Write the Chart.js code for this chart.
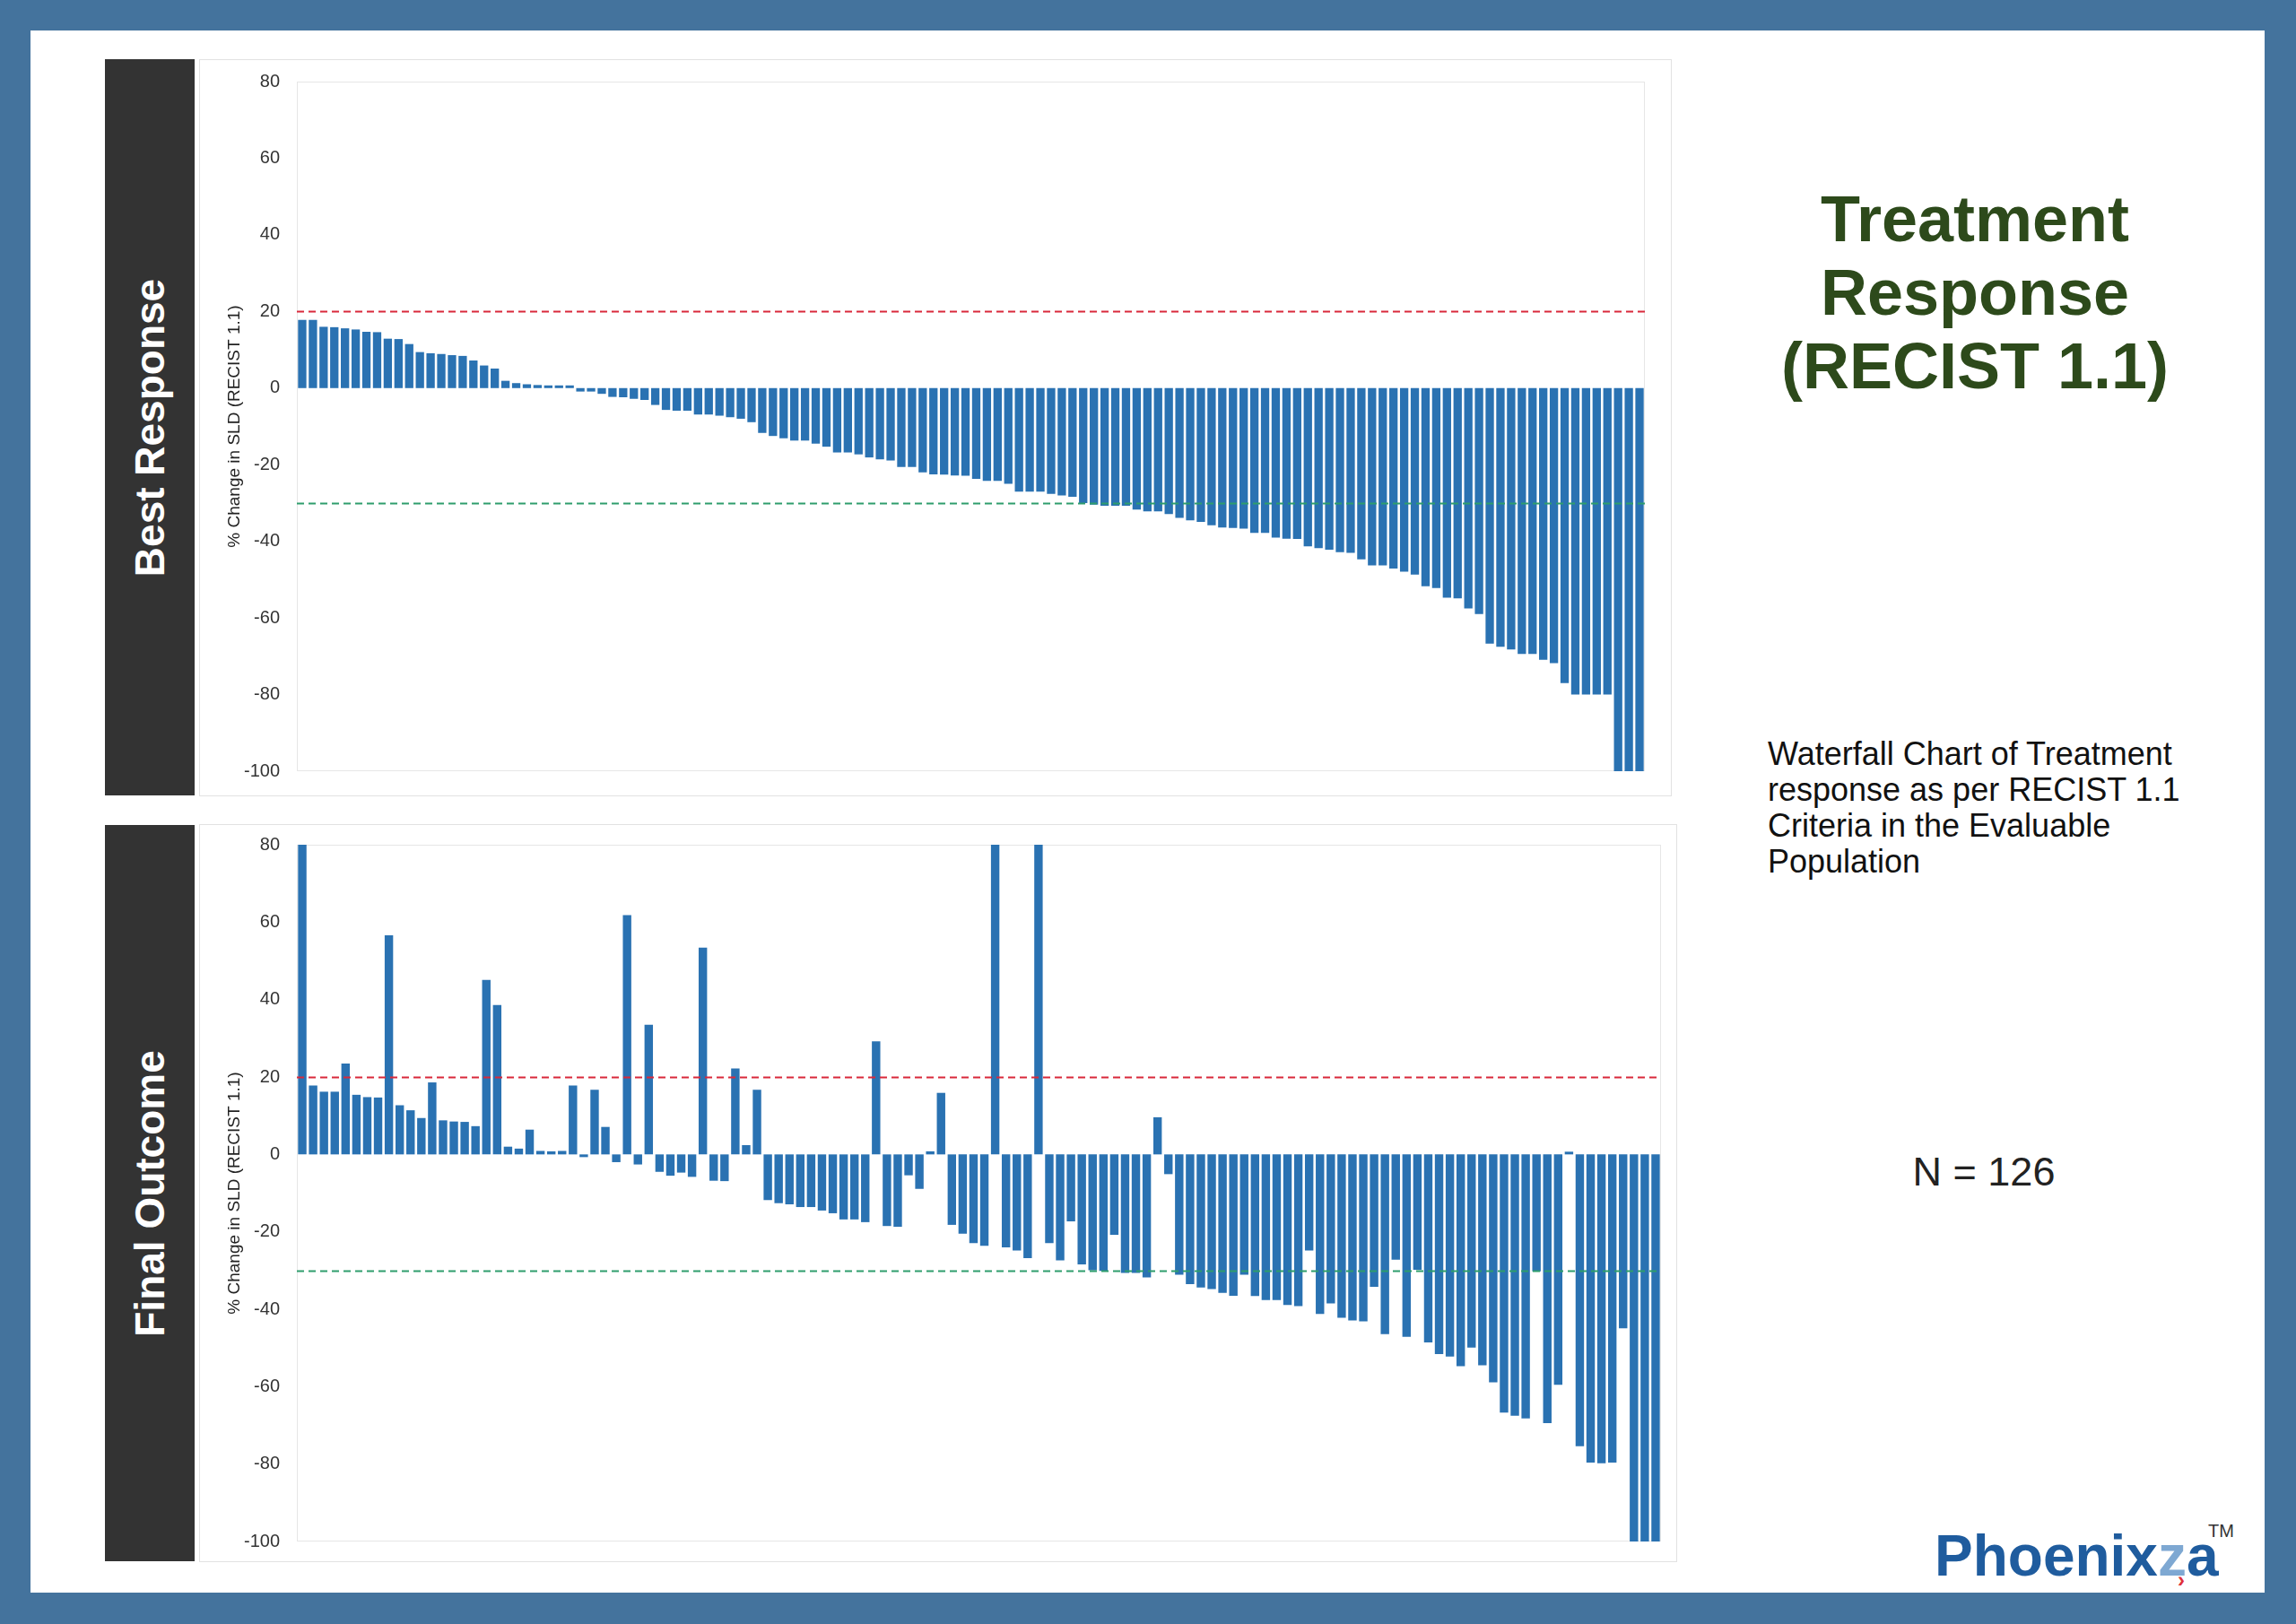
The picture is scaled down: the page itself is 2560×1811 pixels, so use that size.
<!DOCTYPE html>
<html>
<head>
<meta charset="utf-8">
<script src="https://cdn.jsdelivr.net/npm/chart.js@4.4.0/dist/chart.umd.min.js"></script>
<style>
  body { margin: 0; width: 2560px; height: 1811px; background: #44739d; position: relative; overflow: hidden; font-family: "Liberation Sans", Arial, sans-serif; }
  #panel { position: absolute; left: 34px; top: 34px; width: 2491px; height: 1742px; background: #fff; }
  .band { position: absolute; left: 117px; width: 100px; background: #333; }
  .band span { position: absolute; left: 50%; top: 50%; transform: translate(-50%, -50%) rotate(-90deg); white-space: nowrap; color: #fff; font-weight: bold; font-size: 46px; }
  .box { position: absolute; outline: 1px solid #e2e2e2; background: #fff; }
  .box canvas { display: block; }
  #title { position: absolute; left: 1852px; top: 203px; width: 700px; text-align: center; color: #2d4a1b; font-weight: bold; font-size: 72px; line-height: 82px; }
  #desc { position: absolute; left: 1971px; top: 821px; font-size: 36px; line-height: 40px; color: #111; }
  #count { position: absolute; left: 2012px; top: 1282px; width: 400px; text-align: center; font-size: 45px; line-height: 50px; color: #222; }
  #logo { position: absolute; left: 2157px; top: 1704px; font-size: 64px; line-height: 62px; font-weight: bold; color: #1f5c9e; }
  #logo .z { color: #7ea8d2; }
  #tm { position: absolute; left: 2462px; top: 1696px; font-size: 20px; color: #333; }
  #chev { position: absolute; left: 2428px; top: 1748px; font-size: 24px; font-weight: bold; color: #e0303a; }
</style>
</head>
<body>
<div id="panel"></div>

<div class="band" style="top:66px;height:821px;"><span>Best Response</span></div>
<div class="box" style="left:223px;top:67px;width:1640px;height:820px;"><canvas id="bestChart" width="1640" height="820"></canvas></div>

<div class="band" style="top:920px;height:821px;"><span>Final Outcome</span></div>
<div class="box" style="left:223px;top:920px;width:1646px;height:821px;"><canvas id="finalChart" width="1646" height="821"></canvas></div>

<div id="title">Treatment<br>Response<br>(RECIST 1.1)</div>
<div id="desc">Waterfall Chart of Treatment<br>response as per RECIST 1.1<br>Criteria in the Evaluable<br>Population</div>
<div id="count">N = 126</div>
<div id="logo">Phoenix<span class="z">z</span>a</div>
<div id="tm">TM</div>
<div id="chev">›</div>

<script>
// % change in sum of longest diameters, one value per patient (sorted by best response)
const bestResponse = [
    17.8, 17.8, 16.0, 15.9, 15.6, 15.3, 14.7, 14.6, 12.9, 12.8,
    11.5, 9.4, 9.1, 8.9, 8.6, 8.4, 7.2, 5.9, 5.1, 1.9,
    1.3, 1.0, 0.8, 0.7, 0.7, 0.7, -0.9, -0.9, -1.5, -2.3,
    -2.4, -2.8, -3.1, -4.4, -5.7, -5.9, -5.9, -6.9, -6.9, -7.2,
    -7.6, -8.0, -8.9, -11.7, -12.5, -13.1, -13.7, -13.7, -14.5, -15.3,
    -16.8, -16.8, -17.3, -18.1, -18.6, -18.9, -20.6, -20.6, -22.0, -22.5,
    -22.6, -22.8, -22.9, -23.7, -24.2, -24.2, -25.0, -27.0, -27.0, -27.0,
    -27.6, -28.0, -28.4, -30.0, -30.4, -30.7, -30.7, -30.7, -31.7, -32.2,
    -32.2, -32.9, -33.9, -34.5, -34.9, -35.8, -36.4, -36.5, -36.7, -37.8,
    -37.8, -39.0, -39.3, -39.4, -41.3, -41.8, -42.2, -42.8, -43.0, -44.7,
    -46.3, -46.3, -47.1, -47.9, -48.7, -51.7, -52.2, -54.7, -54.9, -57.5,
    -59.0, -66.7, -67.5, -68.2, -69.4, -69.4, -70.9, -71.8, -77.0, -80,
    -80, -80, -80, -100, -100, -100
];

// same patients, final outcome
const finalOutcome = [
    80, 17.8, 16.2, 16.2, 23.5, 15.4, 14.8, 14.7, 56.6, 12.7,
    11.4, 9.4, 18.6, 8.8, 8.5, 8.4, 7.3, 45.1, 38.6, 2.0,
    1.5, 6.4, 0.9, 0.8, 0.9, 17.8, -0.7, 16.7, 7.1, -2.0,
    61.8, -2.6, 33.5, -4.5, -5.5, -4.7, -5.8, 53.4, -6.8, -6.9,
    22.2, 2.4, 16.7, -11.8, -12.6, -12.9, -13.6, -13.6, -14.5, -15.2,
    -16.8, -16.8, -17.5, 29.2, -18.5, -18.7, -5.4, -8.9, 0.8, 15.9,
    -18.2, -20.5, -22.9, -23.6, 80, -24.0, -24.8, -26.8, 80, -22.9,
    -27.4, -17.3, -28.4, -29.9, -30.1, -20.8, -30.6, -30.6, -31.8, 9.6,
    -5.1, -31.1, -33.5, -34.4, -34.8, -35.8, -36.5, -31.1, -36.6, -37.6,
    -37.6, -38.9, -39.2, -24.8, -41.2, -38.5, -42.2, -42.9, -43.1, -34.2,
    -46.4, -27.2, -47.1, -29.8, -48.6, -51.6, -52.2, -54.7, -49.9, -54.5,
    -58.9, -66.7, -67.5, -68.2, -30.2, -69.4, -59.5, 0.7, -75.4, -79.6,
    -79.8, -79.6, -44.9, -100, -100, -100
];

const patients = bestResponse.map((v, i) => String(i + 1));
const yTicks = [80, 60, 40, 20, 0, -20, -40, -60, -80, -100];
const progressionLine = 20;   // PD threshold
const responseLine = -30;     // PR threshold
const yTitle = '% Change in SLD (RECIST 1.1)';

Chart.defaults.font.family = '"Liberation Sans", Arial, sans-serif';

// plot frame + dashed RECIST thresholds
const recistLines = {
    id: 'recistLines',
    beforeDatasetsDraw(chart) {
        const { ctx, chartArea } = chart;
        ctx.save();
        ctx.strokeStyle = '#e6e6e6';
        ctx.lineWidth = 1;
        ctx.strokeRect(chartArea.left + 0.5, chartArea.top + 0.5, chartArea.width - 1, chartArea.height - 1);
        ctx.restore();
    },
    afterDatasetsDraw(chart) {
        const { ctx, chartArea, scales } = chart;
        const lines = [[progressionLine, '#d9293b'], [responseLine, '#2f9d6d']];
        ctx.save();
        ctx.lineWidth = 2;
        ctx.setLineDash([8, 5]);
        lines.forEach(([val, color]) => {
            const y = Math.round(scales.y.getPixelForValue(val)) + 0.5;
            ctx.strokeStyle = color;
            ctx.beginPath();
            ctx.moveTo(chartArea.left, y);
            ctx.lineTo(chartArea.right, y);
            ctx.stroke();
        });
        ctx.restore();
    }
};

function makeChart(canvasId, values, padding) {
    return new Chart(document.getElementById(canvasId), {
        type: 'bar',
        data: {
            labels: patients,
            datasets: [{
                data: values,
                backgroundColor: '#2a72b2',
                borderWidth: 0,
                barPercentage: 0.78,
                categoryPercentage: 1.0
            }]
        },
        options: {
            responsive: false,
            animation: false,
            layout: { padding: padding },
            plugins: {
                legend: { display: false },
                tooltip: { enabled: false }
            },
            scales: {
                x: { display: false, offset: true },
                y: {
                    min: yTicks[yTicks.length - 1],
                    max: yTicks[0],
                    afterFit: (scale) => { scale.width = 108; },
                    // tick gap done with tickLength so the labels don't push the plot area in
                    grid: { display: false, drawTicks: true, tickLength: 19 },
                    border: { display: false },
                    ticks: { stepSize: 20, padding: 0, color: '#333', font: { size: 20 } },
                    title: {
                        display: true,
                        text: yTitle,
                        color: '#222',
                        font: { size: 19 },
                        padding: { top: 27, bottom: 0 }
                    }
                }
            }
        },
        plugins: [recistLines]
    });
}

makeChart('bestChart', bestResponse, { left: 0, right: 29, top: 24, bottom: 27 });
makeChart('finalChart', finalOutcome, { left: 0, right: 17, top: 22, bottom: 22 });
</script>
</body>
</html>
